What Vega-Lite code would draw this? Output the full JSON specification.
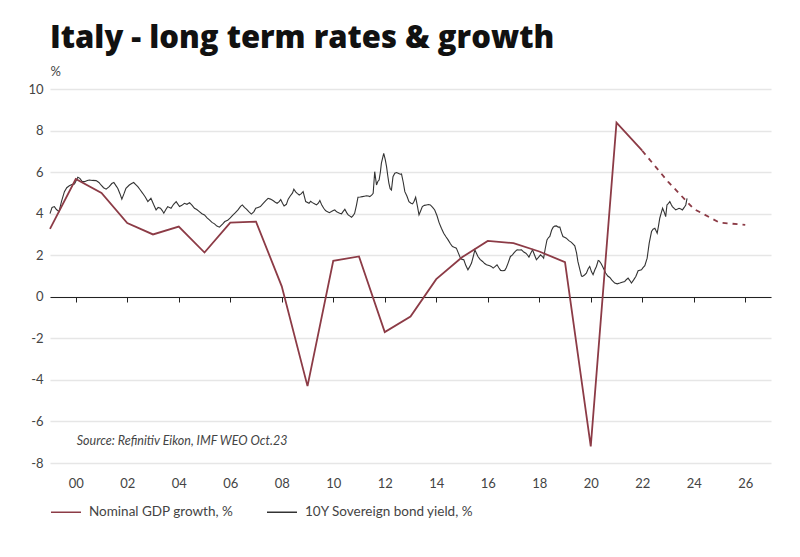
{
  "$schema": "https://vega.github.io/schema/vega-lite/v6.json",
  "width": 721,
  "height": 374,
  "autosize": {"type": "none"},
  "padding": {"left": 50, "top": 89, "right": 29, "bottom": 94},
  "background": "white",
  "title": {"text": "Italy - long term rates & growth", "anchor": "start", "frame": "group", "offset": 10, "font": "Open Sans", "fontSize": 31, "fontWeight": 800, "color": "#111111"},
  "config": {
    "view": {"stroke": null},
    "axis": {"labelFont": "Lato", "labelFontSize": 13, "labelColor": "#444444", "titleFont": "Lato"}
  },
  "datasets": {
    "gdp": [
      {"year": 1999, "v": 3.27}, {"year": 2000, "v": 5.67}, {"year": 2001, "v": 5.0}, {"year": 2002, "v": 3.55},
      {"year": 2003, "v": 3.0}, {"year": 2004, "v": 3.38}, {"year": 2005, "v": 2.13}, {"year": 2006, "v": 3.57},
      {"year": 2007, "v": 3.62}, {"year": 2008, "v": 0.5}, {"year": 2009, "v": -4.3}, {"year": 2010, "v": 1.73},
      {"year": 2011, "v": 1.94}, {"year": 2012, "v": -1.7}, {"year": 2013, "v": -0.95}, {"year": 2014, "v": 0.85},
      {"year": 2015, "v": 1.9}, {"year": 2016, "v": 2.69}, {"year": 2017, "v": 2.58}, {"year": 2018, "v": 2.18},
      {"year": 2019, "v": 1.67}, {"year": 2020, "v": -7.2}, {"year": 2021, "v": 8.38}, {"year": 2022, "v": 7.03},
      {"year": 2023, "v": 5.54}, {"year": 2024, "v": 4.23}, {"year": 2025, "v": 3.57}, {"year": 2026, "v": 3.46}
    ],
    "yield": [
      {"year": 1999.00, "v": 4.00}, {"year": 1999.08, "v": 4.30}, {"year": 1999.17, "v": 4.34}, {"year": 1999.25, "v": 4.20},
      {"year": 1999.35, "v": 4.10}, {"year": 1999.45, "v": 4.60}, {"year": 1999.56, "v": 5.06}, {"year": 1999.65, "v": 5.25},
      {"year": 1999.75, "v": 5.34}, {"year": 1999.85, "v": 5.40}, {"year": 1999.95, "v": 5.43}, {"year": 2000.08, "v": 5.75},
      {"year": 2000.16, "v": 5.70}, {"year": 2000.25, "v": 5.55}, {"year": 2000.34, "v": 5.54}, {"year": 2000.45, "v": 5.60},
      {"year": 2000.53, "v": 5.62}, {"year": 2000.65, "v": 5.60}, {"year": 2000.79, "v": 5.59}, {"year": 2000.90, "v": 5.50},
      {"year": 2000.98, "v": 5.38}, {"year": 2001.08, "v": 5.25}, {"year": 2001.18, "v": 5.18}, {"year": 2001.30, "v": 5.30},
      {"year": 2001.40, "v": 5.45}, {"year": 2001.48, "v": 5.50}, {"year": 2001.56, "v": 5.35}, {"year": 2001.63, "v": 5.22},
      {"year": 2001.72, "v": 4.95}, {"year": 2001.79, "v": 4.70}, {"year": 2001.87, "v": 4.95}, {"year": 2001.95, "v": 5.22},
      {"year": 2002.08, "v": 5.38}, {"year": 2002.17, "v": 5.45}, {"year": 2002.25, "v": 5.50}, {"year": 2002.33, "v": 5.40},
      {"year": 2002.41, "v": 5.30}, {"year": 2002.50, "v": 5.15}, {"year": 2002.60, "v": 4.98}, {"year": 2002.70, "v": 4.80},
      {"year": 2002.80, "v": 4.58}, {"year": 2002.92, "v": 4.74}, {"year": 2003.02, "v": 4.45}, {"year": 2003.12, "v": 4.18},
      {"year": 2003.20, "v": 4.30}, {"year": 2003.29, "v": 4.26}, {"year": 2003.36, "v": 4.15}, {"year": 2003.42, "v": 4.02},
      {"year": 2003.50, "v": 4.20}, {"year": 2003.57, "v": 4.34}, {"year": 2003.70, "v": 4.26}, {"year": 2003.80, "v": 4.45},
      {"year": 2003.90, "v": 4.58}, {"year": 2004.03, "v": 4.34}, {"year": 2004.12, "v": 4.40}, {"year": 2004.22, "v": 4.50},
      {"year": 2004.32, "v": 4.45}, {"year": 2004.42, "v": 4.53}, {"year": 2004.52, "v": 4.40}, {"year": 2004.61, "v": 4.26},
      {"year": 2004.70, "v": 4.20}, {"year": 2004.80, "v": 4.10}, {"year": 2004.90, "v": 4.00}, {"year": 2005.00, "v": 3.94},
      {"year": 2005.10, "v": 3.80}, {"year": 2005.19, "v": 3.70}, {"year": 2005.29, "v": 3.58}, {"year": 2005.39, "v": 3.51},
      {"year": 2005.48, "v": 3.40}, {"year": 2005.58, "v": 3.35}, {"year": 2005.70, "v": 3.50}, {"year": 2005.79, "v": 3.62},
      {"year": 2005.90, "v": 3.68}, {"year": 2006.00, "v": 3.80}, {"year": 2006.11, "v": 3.94}, {"year": 2006.20, "v": 4.05},
      {"year": 2006.30, "v": 4.18}, {"year": 2006.40, "v": 4.35}, {"year": 2006.47, "v": 4.42}, {"year": 2006.55, "v": 4.30},
      {"year": 2006.63, "v": 4.22}, {"year": 2006.72, "v": 4.10}, {"year": 2006.82, "v": 3.98}, {"year": 2006.92, "v": 4.10},
      {"year": 2006.99, "v": 4.26}, {"year": 2007.08, "v": 4.30}, {"year": 2007.17, "v": 4.34}, {"year": 2007.28, "v": 4.50},
      {"year": 2007.38, "v": 4.63}, {"year": 2007.47, "v": 4.74}, {"year": 2007.56, "v": 4.70}, {"year": 2007.66, "v": 4.63},
      {"year": 2007.75, "v": 4.55}, {"year": 2007.82, "v": 4.50}, {"year": 2007.90, "v": 4.58}, {"year": 2007.96, "v": 4.68},
      {"year": 2008.03, "v": 4.50}, {"year": 2008.09, "v": 4.37}, {"year": 2008.18, "v": 4.45}, {"year": 2008.25, "v": 4.70},
      {"year": 2008.33, "v": 4.85}, {"year": 2008.42, "v": 5.00}, {"year": 2008.47, "v": 5.18}, {"year": 2008.54, "v": 5.05},
      {"year": 2008.60, "v": 4.98}, {"year": 2008.68, "v": 4.90}, {"year": 2008.75, "v": 4.95}, {"year": 2008.83, "v": 5.06},
      {"year": 2008.93, "v": 4.58}, {"year": 2009.06, "v": 4.50}, {"year": 2009.12, "v": 4.60}, {"year": 2009.19, "v": 4.53},
      {"year": 2009.27, "v": 4.48}, {"year": 2009.35, "v": 4.42}, {"year": 2009.42, "v": 4.50}, {"year": 2009.48, "v": 4.63},
      {"year": 2009.56, "v": 4.40}, {"year": 2009.63, "v": 4.26}, {"year": 2009.70, "v": 4.15}, {"year": 2009.76, "v": 4.10},
      {"year": 2009.85, "v": 4.05}, {"year": 2009.93, "v": 4.10}, {"year": 2010.00, "v": 4.15}, {"year": 2010.06, "v": 4.18},
      {"year": 2010.12, "v": 4.10}, {"year": 2010.19, "v": 4.05}, {"year": 2010.25, "v": 4.02}, {"year": 2010.32, "v": 3.99},
      {"year": 2010.38, "v": 4.10}, {"year": 2010.45, "v": 4.21}, {"year": 2010.52, "v": 4.05}, {"year": 2010.58, "v": 3.94},
      {"year": 2010.65, "v": 3.88}, {"year": 2010.71, "v": 3.83}, {"year": 2010.77, "v": 3.90}, {"year": 2010.83, "v": 4.02},
      {"year": 2010.90, "v": 4.40}, {"year": 2010.96, "v": 4.79}, {"year": 2011.05, "v": 4.80}, {"year": 2011.13, "v": 4.82},
      {"year": 2011.21, "v": 4.84}, {"year": 2011.29, "v": 4.86}, {"year": 2011.36, "v": 4.85}, {"year": 2011.42, "v": 4.82},
      {"year": 2011.50, "v": 4.90}, {"year": 2011.55, "v": 4.98}, {"year": 2011.61, "v": 6.02}, {"year": 2011.68, "v": 5.38},
      {"year": 2011.73, "v": 5.55}, {"year": 2011.78, "v": 5.62}, {"year": 2011.83, "v": 6.00}, {"year": 2011.87, "v": 6.43},
      {"year": 2011.96, "v": 6.90}, {"year": 2012.02, "v": 6.60}, {"year": 2012.07, "v": 6.26}, {"year": 2012.12, "v": 5.80},
      {"year": 2012.16, "v": 5.47}, {"year": 2012.21, "v": 5.20}, {"year": 2012.26, "v": 5.14}, {"year": 2012.32, "v": 5.78},
      {"year": 2012.39, "v": 5.95}, {"year": 2012.46, "v": 5.98}, {"year": 2012.52, "v": 5.95}, {"year": 2012.60, "v": 5.90},
      {"year": 2012.65, "v": 5.91}, {"year": 2012.72, "v": 5.50}, {"year": 2012.78, "v": 5.06}, {"year": 2012.86, "v": 4.85},
      {"year": 2012.94, "v": 4.58}, {"year": 2013.02, "v": 4.50}, {"year": 2013.08, "v": 4.47}, {"year": 2013.14, "v": 4.60},
      {"year": 2013.20, "v": 4.79}, {"year": 2013.27, "v": 4.35}, {"year": 2013.33, "v": 3.94}, {"year": 2013.40, "v": 4.15},
      {"year": 2013.46, "v": 4.34}, {"year": 2013.54, "v": 4.40}, {"year": 2013.62, "v": 4.42}, {"year": 2013.70, "v": 4.44},
      {"year": 2013.77, "v": 4.42}, {"year": 2013.86, "v": 4.30}, {"year": 2013.94, "v": 4.18}, {"year": 2014.03, "v": 3.90},
      {"year": 2014.11, "v": 3.57}, {"year": 2014.20, "v": 3.30}, {"year": 2014.29, "v": 3.06}, {"year": 2014.37, "v": 2.90},
      {"year": 2014.46, "v": 2.74}, {"year": 2014.55, "v": 2.55}, {"year": 2014.63, "v": 2.42}, {"year": 2014.70, "v": 2.38},
      {"year": 2014.78, "v": 2.34}, {"year": 2014.86, "v": 2.10}, {"year": 2014.94, "v": 1.86}, {"year": 2015.00, "v": 1.80},
      {"year": 2015.07, "v": 1.78}, {"year": 2015.15, "v": 1.50}, {"year": 2015.23, "v": 1.30}, {"year": 2015.30, "v": 1.45},
      {"year": 2015.37, "v": 1.62}, {"year": 2015.44, "v": 1.95}, {"year": 2015.50, "v": 2.26}, {"year": 2015.56, "v": 2.10},
      {"year": 2015.62, "v": 1.94}, {"year": 2015.70, "v": 1.80}, {"year": 2015.80, "v": 1.70}, {"year": 2015.88, "v": 1.60},
      {"year": 2015.95, "v": 1.54}, {"year": 2016.08, "v": 1.49}, {"year": 2016.15, "v": 1.45}, {"year": 2016.21, "v": 1.38},
      {"year": 2016.28, "v": 1.45}, {"year": 2016.36, "v": 1.54}, {"year": 2016.43, "v": 1.40}, {"year": 2016.50, "v": 1.27},
      {"year": 2016.58, "v": 1.25}, {"year": 2016.66, "v": 1.27}, {"year": 2016.72, "v": 1.40}, {"year": 2016.79, "v": 1.62},
      {"year": 2016.88, "v": 1.94}, {"year": 2016.95, "v": 2.00}, {"year": 2017.01, "v": 2.10}, {"year": 2017.08, "v": 2.20},
      {"year": 2017.14, "v": 2.26}, {"year": 2017.22, "v": 2.25}, {"year": 2017.31, "v": 2.26}, {"year": 2017.40, "v": 2.15},
      {"year": 2017.48, "v": 2.10}, {"year": 2017.55, "v": 2.00}, {"year": 2017.60, "v": 1.91}, {"year": 2017.67, "v": 2.10},
      {"year": 2017.74, "v": 2.26}, {"year": 2017.82, "v": 2.00}, {"year": 2017.89, "v": 1.78}, {"year": 2017.97, "v": 1.90},
      {"year": 2018.05, "v": 2.02}, {"year": 2018.11, "v": 1.95}, {"year": 2018.17, "v": 1.86}, {"year": 2018.23, "v": 2.30},
      {"year": 2018.30, "v": 2.74}, {"year": 2018.36, "v": 2.85}, {"year": 2018.41, "v": 2.90}, {"year": 2018.48, "v": 3.20},
      {"year": 2018.54, "v": 3.35}, {"year": 2018.60, "v": 3.40}, {"year": 2018.67, "v": 3.41}, {"year": 2018.74, "v": 3.35},
      {"year": 2018.80, "v": 3.35}, {"year": 2018.86, "v": 3.10}, {"year": 2018.92, "v": 2.90}, {"year": 2019.00, "v": 2.85},
      {"year": 2019.05, "v": 2.82}, {"year": 2019.15, "v": 2.70}, {"year": 2019.25, "v": 2.62}, {"year": 2019.38, "v": 2.45},
      {"year": 2019.45, "v": 2.10}, {"year": 2019.50, "v": 1.70}, {"year": 2019.58, "v": 1.30}, {"year": 2019.64, "v": 1.00},
      {"year": 2019.68, "v": 0.98}, {"year": 2019.76, "v": 1.05}, {"year": 2019.83, "v": 1.14}, {"year": 2019.90, "v": 1.35},
      {"year": 2019.96, "v": 1.46}, {"year": 2020.03, "v": 1.20}, {"year": 2020.09, "v": 1.06}, {"year": 2020.16, "v": 1.30},
      {"year": 2020.22, "v": 1.46}, {"year": 2020.29, "v": 1.75}, {"year": 2020.33, "v": 1.73}, {"year": 2020.40, "v": 1.60},
      {"year": 2020.46, "v": 1.46}, {"year": 2020.52, "v": 1.30}, {"year": 2020.58, "v": 1.14}, {"year": 2020.66, "v": 1.00},
      {"year": 2020.74, "v": 0.93}, {"year": 2020.82, "v": 0.80}, {"year": 2020.93, "v": 0.66}, {"year": 2021.03, "v": 0.62},
      {"year": 2021.13, "v": 0.66}, {"year": 2021.22, "v": 0.70}, {"year": 2021.32, "v": 0.74}, {"year": 2021.38, "v": 0.82},
      {"year": 2021.45, "v": 0.90}, {"year": 2021.52, "v": 0.78}, {"year": 2021.58, "v": 0.66}, {"year": 2021.66, "v": 0.80},
      {"year": 2021.75, "v": 0.98}, {"year": 2021.84, "v": 1.25}, {"year": 2021.97, "v": 1.30}, {"year": 2022.03, "v": 1.40},
      {"year": 2022.10, "v": 1.50}, {"year": 2022.19, "v": 1.86}, {"year": 2022.27, "v": 2.58}, {"year": 2022.36, "v": 3.14},
      {"year": 2022.42, "v": 3.25}, {"year": 2022.49, "v": 3.30}, {"year": 2022.58, "v": 3.06}, {"year": 2022.63, "v": 3.40},
      {"year": 2022.68, "v": 3.78}, {"year": 2022.74, "v": 4.05}, {"year": 2022.79, "v": 4.26}, {"year": 2022.86, "v": 4.05},
      {"year": 2022.91, "v": 3.86}, {"year": 2022.96, "v": 4.42}, {"year": 2023.02, "v": 4.50}, {"year": 2023.07, "v": 4.58},
      {"year": 2023.12, "v": 4.45}, {"year": 2023.17, "v": 4.34}, {"year": 2023.24, "v": 4.25}, {"year": 2023.30, "v": 4.18},
      {"year": 2023.37, "v": 4.22}, {"year": 2023.43, "v": 4.26}, {"year": 2023.50, "v": 4.22}, {"year": 2023.56, "v": 4.18},
      {"year": 2023.63, "v": 4.30}, {"year": 2023.69, "v": 4.42}, {"year": 2023.74, "v": 4.74}
    ],
    "note": [{"text": "Source: Refinitiv Eikon, IMF WEO Oct.23", "year": 2000.04, "v": -6.93}]
  },
  "resolve": {"axis": {"x": "independent"}},
  "layer": [
    {
      "data": {"name": "yield"},
      "mark": {"type": "line", "strokeWidth": 1.1},
      "encoding": {
        "x": {"field": "year", "type": "quantitative",
          "scale": {"domain": [1999, 2027], "nice": false, "zero": false},
          "axis": {"orient": "bottom", "offset": -166, "values": [2000, 2002, 2004, 2006, 2008, 2010, 2012, 2014, 2016, 2018, 2020, 2022, 2024, 2026],
            "domain": true, "domainColor": "#222222", "domainWidth": 1, "ticks": true, "tickColor": "#222222", "tickSize": 5, "tickWidth": 1,
            "labels": false, "grid": false, "title": null}},
        "y": {"field": "v", "type": "quantitative",
          "scale": {"domain": [-8, 10], "nice": false, "zero": false},
          "axis": {"values": [-8, -6, -4, -2, 0, 2, 4, 6, 8, 10], "grid": true, "gridColor": "#e6e6e6", "gridWidth": 1.5,
            "domain": false, "ticks": false, "labelPadding": 7, "labelExpr": "toString(datum.value)",
            "title": "%", "titleAngle": 0, "titleX": 0, "titleY": -14, "titleAlign": "left", "titleBaseline": "alphabetic",
            "titleFontWeight": "normal", "titleFontSize": 13, "titleColor": "#444444"}},
        "color": {"datum": "10Y Sovereign bond yield, %", "type": "nominal",
          "scale": {"domain": ["Nominal GDP growth, %", "10Y Sovereign bond yield, %"], "range": ["#8c3b46", "#333333"]},
          "legend": {"orient": "none", "legendX": 0, "legendY": 407, "direction": "horizontal", "title": null,
            "symbolType": "stroke", "symbolSize": 900, "symbolStrokeWidth": 1.5, "labelFont": "Lato", "labelFontSize": 13.5,
            "labelColor": "#444444", "columnPadding": 30, "labelOffset": 7, "labelLimit": 400}}
      }
    },
    {
      "data": {"name": "gdp"},
      "transform": [{"filter": "datum.year <= 2022"}],
      "mark": {"type": "line", "strokeWidth": 1.8},
      "encoding": {
        "x": {"field": "year", "type": "quantitative",
          "axis": {"orient": "bottom", "values": [2000, 2002, 2004, 2006, 2008, 2010, 2012, 2014, 2016, 2018, 2020, 2022, 2024, 2026],
            "domain": false, "ticks": false, "grid": false, "labelPadding": 14, "title": null,
            "labelExpr": "substring(toString(datum.value), 2, 4)"}},
        "y": {"field": "v", "type": "quantitative"},
        "color": {"datum": "Nominal GDP growth, %", "type": "nominal"}
      }
    },
    {
      "data": {"name": "gdp"},
      "transform": [{"filter": "datum.year >= 2022"}],
      "mark": {"type": "line", "strokeWidth": 1.8, "strokeDash": [5, 5], "color": "#8c3b46"},
      "encoding": {
        "x": {"field": "year", "type": "quantitative", "axis": null},
        "y": {"field": "v", "type": "quantitative"}
      }
    },
    {
      "data": {"name": "note"},
      "mark": {"type": "text", "font": "Lato", "fontSize": 12.5, "fontStyle": "italic", "color": "#444444", "align": "left", "baseline": "middle"},
      "encoding": {
        "text": {"field": "text"},
        "x": {"field": "year", "type": "quantitative", "axis": null},
        "y": {"field": "v", "type": "quantitative"}
      }
    }
  ]
}
